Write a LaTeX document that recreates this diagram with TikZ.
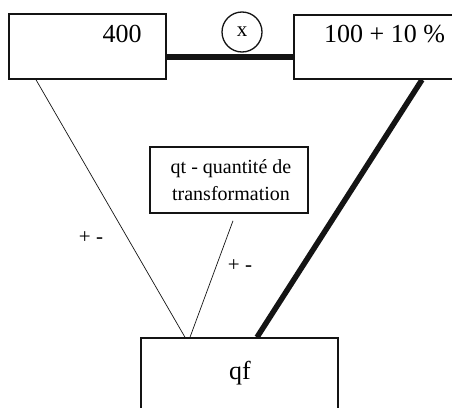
\documentclass[tikz,border=0pt]{standalone}
\usepackage{fontspec}
\setmainfont{Liberation Serif}
\usepackage{tikz}
\definecolor{INKblack}{RGB}{20, 20, 20}

\begin{document}
\begin{tikzpicture}[x=1pt,y=-1pt,
    box/.style={draw=INKblack,line width=1.5pt,inner sep=0pt},
    thin/.style={draw=INKblack,line width=0.7pt},
    thickline/.style={draw=INKblack,line width=5.5pt},
    txt/.style={inner sep=0pt,font=\fontsize{26}{30}\selectfont},
    small/.style={inner sep=0pt,font=\fontsize{21}{26}\selectfont}]
                \useasboundingbox (0,0) rectangle (452,407);
                \clip (0,0) rectangle (452,407);
                \node[box,minimum width=157pt,minimum height=65pt] (b400) at (87.5,46.5) {};
                \node[box,minimum width=166pt,minimum height=64pt] (b100) at (377,47) {};
                \node[box,minimum width=158pt,minimum height=66pt] (qt) at (229,180) {};
                \node[box,minimum width=197pt,minimum height=102pt] (qf) at (239.5,389) {};
                \node[txt] (t400) at (122,34) {400};
                \node[txt] (t100) at (384.5,34) {100 + 10 \%};
                \node[txt] (tqf) at (240,373) {qf};
                \node[inner sep=0pt,align=center,font=\fontsize{20}{27}\selectfont] (tqt) at (231,180)
                    {qt - quantité de\\transformation};
                \node[small] (pm1) at (91,238) {+ -};
                \node[small] (pm2) at (240,266) {+ -};
                \draw[thickline] ([yshift=-10.5pt]b400.east) -- ([yshift=-10pt]b100.west);
                \node[draw=INKblack,line width=1.3pt,circle,minimum size=40pt,inner sep=0pt,fill=white,
                    font=\fontsize{21}{24}\selectfont] (mult) at (242,32) {x};
                \draw[thin] ([xshift=-51.5pt]b400.south) -- ([xshift=-54.5pt]qf.north);
                \draw[thin] ([shift={(4pt,-7pt)}]qt.south) -- ([xshift=-49.5pt]qf.north);
                \draw[thickline] ([xshift=45pt]b100.south) -- ([xshift=17.5pt]qf.north);
            \end{tikzpicture}
\end{document}
